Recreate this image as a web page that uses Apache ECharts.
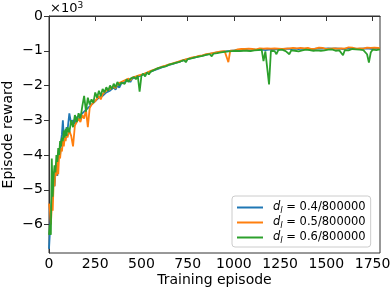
<!DOCTYPE html>
<html><head><meta charset="utf-8">
<script src="https://cdn.jsdelivr.net/npm/echarts@6/dist/echarts.min.js"></script>
<style>html,body{margin:0;padding:0;background:#fff}#c{width:390px;height:290px}</style>
</head><body><div id="c"></div>
<script>
// sampling grid of episodes (every 5 up to 100, then every 10)
const episodes = [];
for (let e = 0; e <= 100; e += 5) episodes.push(e);
for (let e = 110; e <= 1790; e += 10) episodes.push(e);

const seriesNames = ['0.4/800000', '0.5/800000', '0.6/800000'];
const xTicks = [0, 250, 500, 750, 1000, 1250, 1500, 1750];
const yTicks = [0, -1, -2, -3, -4, -5, -6];

// episode reward in units of 10^3
const blue = [
-6.7,-6.2,-5.6,-5.3,-5.0,-4.7,-4.9,-4.5,-4.3,-4.6,-4.1,-3.8,-4.0,-3.6,-3.4,-3.0,-3.5,-3.3,-3.45,-3.2,-3.3,
-2.8,-3.1,-3.0,-3.1,-2.9,-3.0,-2.85,-2.9,-2.75,-2.8,
-2.65,-2.7,-2.55,-2.6,-2.45,-2.5,-2.35,-2.4,-2.3,-2.35,
-2.2,-2.25,-2.15,-2.2,-2.05,-2.12,-2.0,-2.06,-1.95,-2.0,
-1.9,-1.95,-1.84,-1.9,-1.8,-1.85,-1.76,-1.8,-1.73,-1.77,
-1.68,-1.73,-1.64,-1.68,-1.6,-1.64,-1.56,-1.6,-1.52,-1.55,
-1.48,-1.51,-1.44,-1.47,-1.41,-1.44,-1.38,-1.4,-1.34,-1.37,
-1.31,-1.33,-1.27,-1.3,-1.24,-1.27,-1.21,-1.24,-1.19,-1.21,
-1.16,-1.19,-1.14,-1.16,-1.11,-1.14,-1.09,-1.11,-1.07,-1.09,
-1.05,-1.07,-1.03,-1.05,-1.02,-1.04,-1.01,-1.03,-1.0,-1.01,
-0.99,-0.97,-1.0,-0.97,-0.98,-0.96,-0.98,-0.96,-0.99,-0.96,
-0.97,-0.95,-0.98,-0.96,-0.97,-0.95,-0.98,-0.96,-0.97,-0.95,
-0.97,-0.95,-0.96,-0.98,-0.95,-0.97,-0.95,-0.96,-0.94,-0.97,
-0.95,-0.96,-0.94,-0.97,-0.95,-0.96,-0.94,-0.96,-0.95,-0.93,
-0.96,-0.94,-0.95,-0.97,-0.94,-0.96,-0.93,-0.95,-0.94,-0.96,
-0.93,-0.95,-0.94,-0.96,-0.93,-0.95,-0.94,-0.92,-0.95,-0.93,
-0.94,-0.96,-0.93,-0.95,-0.94,-0.92,-0.95,-0.93,-0.94,-0.96,
-0.93,-0.95,-0.94,-0.92,-0.95,-0.93,-0.94,-0.93,-0.94
];
const orange = [
-5.4,-5.6,-6.0,-5.5,-5.6,-4.8,-4.9,-4.4,-4.6,-4.2,-4.55,-4.0,-4.1,-3.8,-3.9,-3.6,-3.75,-3.5,-3.6,-3.4,-3.5,
-3.3,-3.45,-3.75,-3.15,-3.1,-2.95,-3.05,-2.85,-2.95,-2.7,
-3.2,-2.65,-2.55,-2.6,-2.45,-2.5,-2.3,-2.4,-2.25,-2.3,
-2.15,-2.2,-2.1,-2.15,-2.02,-2.08,-1.95,-2.0,-1.9,-1.95,
-1.85,-1.9,-1.8,-1.86,-1.77,-1.82,-1.74,-1.79,-1.7,-1.75,
-1.67,-1.72,-1.63,-1.66,-1.58,-1.63,-1.54,-1.58,-1.5,-1.53,
-1.46,-1.5,-1.43,-1.46,-1.39,-1.42,-1.36,-1.39,-1.33,-1.35,
-1.29,-1.32,-1.26,-1.29,-1.23,-1.26,-1.2,-1.23,-1.18,-1.2,
-1.15,-1.18,-1.13,-1.15,-1.1,-1.13,-1.08,-1.1,-1.06,-1.08,
-1.04,-1.06,-1.02,-1.04,-1.01,-1.03,-1.33,-1.0,-0.99,-1.0,
-0.97,-0.96,-0.98,-0.95,-0.97,-0.95,-0.96,-0.94,-0.97,-0.95,
-0.94,-0.96,-0.95,-0.93,-0.96,-0.94,-0.95,-0.93,-0.96,-0.94,
-0.95,-0.93,-0.95,-0.94,-0.92,-0.95,-0.93,-0.94,-0.96,-0.93,
-0.94,-0.92,-0.95,-0.93,-0.94,-0.92,-0.95,-0.93,-0.94,-0.92,
-0.93,-0.95,-0.92,-0.94,-0.93,-0.91,-0.94,-0.92,-0.93,-0.95,
-0.92,-0.94,-0.91,-0.93,-0.92,-0.94,-0.91,-0.93,-0.92,-0.94,
-0.92,-0.9,-0.93,-0.91,-0.92,-0.94,-0.91,-0.93,-0.92,-0.94,
-0.93,-0.91,-0.93,-0.92,-0.94,-0.91,-0.93,-0.92,-0.93
];
const green = [
-6.3,-6.0,-6.3,-4.1,-5.2,-4.6,-4.3,-4.5,-4.0,-4.2,-3.8,-4.0,-3.6,-3.75,-3.5,-3.6,-3.3,-3.5,-3.25,-3.45,-3.2,
-3.35,-3.0,-3.2,-2.85,-3.05,-2.8,-2.95,-2.6,-2.3,-2.75,
-2.35,-2.55,-2.4,-2.5,-2.2,-2.35,-2.15,-2.3,-2.1,-2.2,
-2.05,-2.15,-2.0,-2.1,-1.95,-2.05,-1.9,-2.0,-1.92,-1.88,
-1.95,-1.82,-1.9,-1.8,-1.85,-1.76,-1.82,-1.72,-2.18,-1.72,
-1.66,-1.74,-1.62,-1.68,-1.6,-1.64,-1.55,-1.6,-1.5,-1.55,
-1.47,-1.52,-1.45,-1.48,-1.4,-1.44,-1.37,-1.4,-1.34,-1.38,
-1.31,-1.34,-1.27,-1.33,-1.24,-1.28,-1.22,-1.25,-1.19,-1.23,
-1.17,-1.2,-1.15,-1.18,-1.12,-1.16,-1.1,-1.16,-1.08,-1.12,
-1.07,-1.1,-1.05,-1.08,-1.03,-1.06,-1.02,-1.05,-1.01,-1.03,
-1.0,-0.98,-1.01,-0.98,-1.0,-0.97,-1.0,-0.98,-1.01,-0.97,
-0.99,-1.02,-0.98,-1.0,-0.97,-1.3,-1.02,-0.99,-1.97,-1.0,
-0.98,-1.01,-1.1,-0.98,-1.0,-0.97,-0.99,-1.01,-0.98,-1.1,
-0.99,-0.97,-1.0,-0.98,-1.02,-0.97,-0.99,-1.0,-0.97,-1.0,
-0.98,-0.96,-1.0,-0.97,-0.99,-0.97,-1.0,-0.96,-0.99,-1.02,
-0.97,-0.99,-0.96,-0.98,-1.0,-0.97,-0.99,-0.97,-1.13,-0.98,
-0.96,-0.99,-0.97,-0.95,-0.98,-0.96,-0.99,-0.97,-0.95,-0.98,
-1.02,-1.1,-1.34,-1.05,-0.97,-0.96,-0.98,-0.95,-0.96
];
const colors = ['#1f77b4', '#ff7f0e', '#2ca02c'];
const values = [blue, orange, green];

const font = 'DejaVu Sans';
const chart = echarts.init(document.getElementById('c'), null, {renderer: 'canvas'});
const minus = v => String(v).replace('-', '\u2212');

chart.setOption({
  animation: false,
  backgroundColor: '#fff',
  color: colors,
  grid: {left: 49, right: 10, top: 16, bottom: 37, containLabel: false, outerBoundsMode: 'none',
         show: true, borderColor: '#333', borderWidth: 1, backgroundColor: 'transparent'},
  xAxis: {
    type: 'value', min: 0, max: 1790,
    name: 'Training episode', nameLocation: 'middle', nameGap: 20, nameMoveOverlap: false,
    nameTextStyle: {fontFamily: font, fontSize: 14, color: '#000'},
    axisLine: {show: true, lineStyle: {color: '#333', width: 1}},
    axisTick: {show: true, length: 5, inside: false, customValues: xTicks, lineStyle: {color: '#333'}},
    axisLabel: {customValues: xTicks, margin: 4, fontFamily: font, fontSize: 14, color: '#000', formatter: v => String(v)},
    splitLine: {show: false}
  },
  yAxis: {
    type: 'value', min: -6.82, max: 0,
    name: 'Episode reward', nameLocation: 'middle', nameGap: 34, nameRotate: 90, nameMoveOverlap: false,
    nameTextStyle: {fontFamily: font, fontSize: 14, color: '#000'},
    axisLine: {show: true, lineStyle: {color: '#333', width: 1}},
    axisTick: {show: true, length: 5, customValues: yTicks, lineStyle: {color: '#333'}},
    axisLabel: {customValues: yTicks, margin: 6, fontFamily: font, fontSize: 14, color: '#000', formatter: minus},
    splitLine: {show: false}
  },
  legend: {
    orient: 'vertical', left: 232, top: 196,
    padding: [4, 5, 2, 5], itemGap: 0,
    itemWidth: 26, itemHeight: 2, icon: 'rect',
    backgroundColor: '#fff', borderColor: '#ccc', borderWidth: 1, borderRadius: 3,
    data: seriesNames,
    formatter: n => '{g|}{i|d}{s|l}{n| = ' + n + '}',
    textStyle: {
      fontFamily: font, fontSize: 11.5, color: '#000', lineHeight: 15,
      rich: {
        g: {width: 5},
        i: {fontFamily: font, fontStyle: 'italic', fontSize: 11.5, lineHeight: 15},
        s: {fontFamily: font, fontStyle: 'italic', fontSize: 8.5, lineHeight: 15, verticalAlign: 'bottom', padding: [4, 0, 0, 0]},
        n: {fontFamily: font, fontSize: 11.5, lineHeight: 15}
      }
    }
  },
  graphic: [{
    type: 'text', left: 50, top: 1,
    style: {
      text: '{a|\u00d710}{b|3}',
      rich: {
        a: {fontFamily: font, fontSize: 13, fill: '#000'},
        b: {fontFamily: font, fontSize: 9, fill: '#000', verticalAlign: 'top', padding: [0, 0, 6, 0]}
      }
    }
  }],
  series: values.map((v, i) => ({
    name: seriesNames[i], type: 'line', showSymbol: false, symbol: 'none',
    data: episodes.map((e, k) => [e, v[k]]),
    lineStyle: {width: 1.8, color: colors[i]},
    itemStyle: {color: colors[i]},
    z: 2 + i
  }))
});
</script></body></html>
